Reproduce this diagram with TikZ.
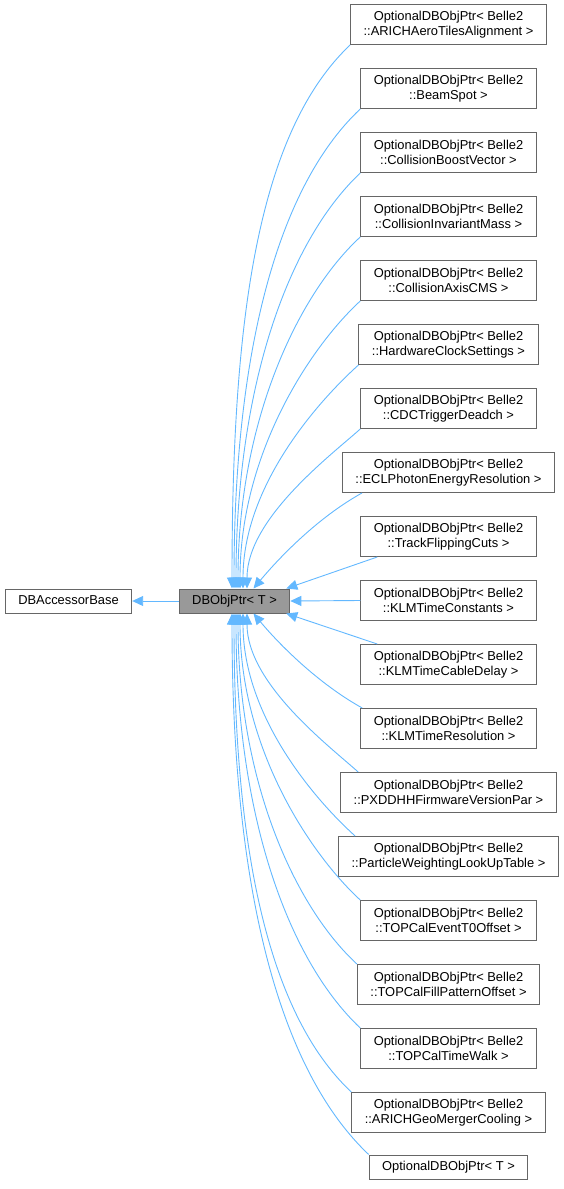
\documentclass[tikz,border=0pt]{standalone}
\usepackage{fontspec}
\setmainfont{Liberation Sans}
\usetikzlibrary{arrows.meta}
\definecolor{edgeblue}{HTML}{63B8FF}
\definecolor{boxgray}{HTML}{666666}
\definecolor{fillgray}{HTML}{999999}
\begin{document}
\begin{tikzpicture}[x=1pt,y=1pt,
  cls/.style={draw=boxgray, line width=1pt, fill=white, inner xsep=13pt, inner ysep=0pt,
    font=\fontsize{12.9pt}{14.5pt}\selectfont, align=center},
  two/.style={cls, minimum height=40pt},
  one/.style={cls, minimum height=24pt, text height=9.3pt, text depth=2.7pt},
  inh/.style={draw=edgeblue, line width=0.9pt, -{Triangle[length=11pt,width=10pt]}},
]
\useasboundingbox (0,0) rectangle (564,-1189);

\node[one, fill=fillgray] (p) at (234.5,-601) {DBObjPtr< T >};
\node[one] (b) at (68.5,-601) {DBAccessorBase};

\node[two] (r1)  at (448.5,-24.5)  {OptionalDBObjPtr< Belle2\\::ARICHAeroTilesAlignment >};
\node[two] (r2)  at (448.5,-88.5)  {OptionalDBObjPtr< Belle2\\::BeamSpot >};
\node[two] (r3)  at (448.5,-152.5) {OptionalDBObjPtr< Belle2\\::CollisionBoostVector >};
\node[two] (r4)  at (448.5,-216.5) {OptionalDBObjPtr< Belle2\\::CollisionInvariantMass >};
\node[two] (r5)  at (448.5,-280.5) {OptionalDBObjPtr< Belle2\\::CollisionAxisCMS >};
\node[two] (r6)  at (448.5,-344.5) {OptionalDBObjPtr< Belle2\\::HardwareClockSettings >};
\node[two] (r7)  at (448.5,-408.5) {OptionalDBObjPtr< Belle2\\::CDCTriggerDeadch >};
\node[two] (r8)  at (448.5,-472.5) {OptionalDBObjPtr< Belle2\\::ECLPhotonEnergyResolution >};
\node[two] (r9)  at (448.5,-536.5) {OptionalDBObjPtr< Belle2\\::TrackFlippingCuts >};
\node[two] (r10) at (448.5,-600.5) {OptionalDBObjPtr< Belle2\\::KLMTimeConstants >};
\node[two] (r11) at (448.5,-664.5) {OptionalDBObjPtr< Belle2\\::KLMTimeCableDelay >};
\node[two] (r12) at (448.5,-728.5) {OptionalDBObjPtr< Belle2\\::KLMTimeResolution >};
\node[two] (r13) at (448.5,-792.5) {OptionalDBObjPtr< Belle2\\::PXDDHHFirmwareVersionPar >};
\node[two] (r14) at (448.5,-856.5) {OptionalDBObjPtr< Belle2\\::ParticleWeightingLookUpTable >};
\node[two] (r15) at (448.5,-920.5) {OptionalDBObjPtr< Belle2\\::TOPCalEventT0Offset >};
\node[two] (r16) at (448.5,-984.5) {OptionalDBObjPtr< Belle2\\::TOPCalFillPatternOffset >};
\node[two] (r17) at (448.5,-1048.5) {OptionalDBObjPtr< Belle2\\::TOPCalTimeWalk >};
\node[two] (r18) at (448.5,-1112.5) {OptionalDBObjPtr< Belle2\\::ARICHGeoMergerCooling >};
\node[one] (r19) at (448.5,-1167) {OptionalDBObjPtr< T >};

\draw[inh] (p.west) -- (b.east);

\draw[inh] (r1.south west) .. controls +(-95,-90) and +(0,260) .. ([xshift=-2.5pt]p.north);
\draw[inh] (r2.south west) .. controls +(-85,-80) and +(0,230) .. ([xshift=-0.5pt]p.north);
\draw[inh] (r3.south west) .. controls +(-74,-70) and +(0,198) .. ([xshift=1.5pt]p.north);
\draw[inh] (r4.south west) .. controls +(-63,-58) and +(0,166) .. ([xshift=3.5pt]p.north);
\draw[inh] (r5.south west) .. controls +(-51,-47) and +(0,134) .. ([xshift=5.5pt]p.north);
\draw[inh] (r6.south west) .. controls +(-40,-36) and +(0,103) .. ([xshift=8.5pt]p.north);
\draw[inh] (r7.south west) .. controls +(-29,-26) and +(0,70) .. ([xshift=12.5pt]p.north);
\draw[inh] ([xshift=20pt]r8.south west) .. controls +(-45,-25) and +(25,30) .. ([xshift=19pt]p.north);
\draw[inh] ([xshift=17pt]r9.south west) -- ([xshift=-4pt]p.north east);
\draw[inh] (r10.west) -- (p.east);
\draw[inh] ([xshift=17pt]r11.north west) -- ([xshift=-4pt]p.south east);
\draw[inh] ([xshift=2pt]r12.north west) .. controls +(-45,25) and +(25,-30) .. ([xshift=19pt]p.south);
\draw[inh] ([xshift=18pt]r13.north west) .. controls +(-29,26) and +(0,-70) .. ([xshift=12.5pt]p.south);
\draw[inh] ([xshift=17pt]r14.north west) .. controls +(-40,36) and +(0,-103) .. ([xshift=8.5pt]p.south);
\draw[inh] (r15.north west) .. controls +(-51,47) and +(0,-134) .. ([xshift=5.5pt]p.south);
\draw[inh] (r16.north west) .. controls +(-63,58) and +(0,-166) .. ([xshift=3.5pt]p.south);
\draw[inh] (r17.north west) .. controls +(-74,70) and +(0,-198) .. ([xshift=1.5pt]p.south);
\draw[inh] (r18.north west) .. controls +(-85,80) and +(0,-230) .. ([xshift=-0.5pt]p.south);
\draw[inh] (r19.north west) .. controls +(-95,90) and +(0,-260) .. ([xshift=-2.5pt]p.south);
\end{tikzpicture}
\end{document}
